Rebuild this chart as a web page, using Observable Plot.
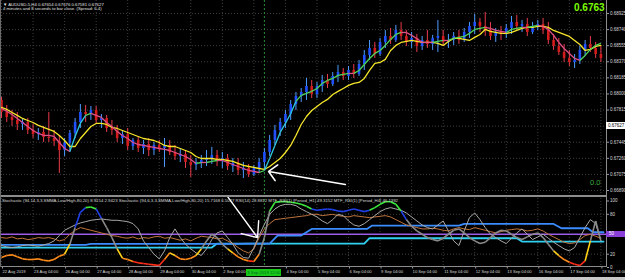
<!DOCTYPE html>
<html><head><meta charset="utf-8">
<script src="https://cdn.jsdelivr.net/npm/d3@7"></script>
<script src="https://cdn.jsdelivr.net/npm/@observablehq/plot@0.6"></script>
<style>
html,body{margin:0;padding:0;background:#000;}
#wrap{position:relative;width:625px;height:280px;background:#000;overflow:hidden;font-family:"Liberation Sans",Arial,sans-serif;}
#wrap svg{position:absolute;left:0;}
.t{position:absolute;white-space:nowrap;line-height:1;}
.ln{position:absolute;}
</style></head><body><div id="wrap"></div>
<script>
// ---- data (AUDUSD H4, prices in points = 1e-5) ----
const nBars = 115; // bar 1 = 22 Aug 2019 00:00, 6 bars per day
const open = [67925,67787,67730,67695,67649,67672,67580,67534,67557,67500,
67488,67454,67350,67431,67546,67672,67787,67764,67810,67695,
67718,67603,67580,67488,67534,67396,67465,67373,67419,67350,
67408,67373,67408,67327,67281,67304,67212,67178,67212,67235,
67258,67293,67224,67258,67166,67201,67120,67143,67074,67143,
67212,67327,67465,67580,67672,67764,67879,67971,68017,68086,
67994,68086,68155,68109,68201,68247,68201,68270,68224,68339,
68443,68523,68454,68592,68661,68615,68730,68661,68592,68638,
68546,68615,68569,68638,68661,68592,68615,68661,68615,68707,
68776,68822,68776,68730,68661,68707,68684,68753,68822,68776,
68799,68707,68776,68799,68730,68615,68546,68477,68408,68362,
68385,68500,68569,68523,68454];
const high = [67960,67868,67810,67787,67718,67718,67649,67603,67626,67787,
67580,67523,67488,67580,67718,67879,67868,67856,67856,67764,
67753,67695,67638,67580,67603,67488,67511,67465,67488,67442,
67465,67488,67465,67408,67373,67350,67293,67258,67293,67350,
67385,67350,67327,67304,67258,67258,67212,67189,67178,67258,
67373,67523,67638,67718,67810,67925,68017,68063,68178,68155,
68132,68213,68224,68247,68328,68293,68316,68339,68385,68500,
68615,68592,68638,68730,68753,68788,68822,68730,68707,68684,
68661,68730,68673,68845,68730,68684,68707,68730,68753,68822,
68914,68868,68937,68822,68753,68776,68799,68891,68903,68845,
68868,68822,68845,68868,68822,68684,68638,68569,68500,68454,
68546,68615,68661,68592,68546];
const low = [67718,67672,67626,67580,67580,67534,67488,67465,67442,67442,
67396,67086,67281,67327,67488,67603,67672,67695,67649,67603,
67557,67523,67442,67419,67350,67350,67327,67304,67281,67293,
67327,67155,67293,67235,67212,67143,67040,67120,67143,67166,
67189,67166,67143,67120,67097,67063,67028,67040,67051,67086,
67120,67281,67408,67511,67603,67695,67810,67902,67925,67948,
67948,68017,68063,68086,68132,68155,68155,68178,68201,68270,
68385,68408,68431,68523,68569,68592,68615,68546,68523,68477,
68500,68523,68500,68477,68546,68523,68558,68569,68592,68638,
68684,68707,68661,68615,68592,68615,68638,68684,68730,68707,
68661,68684,68730,68684,68569,68500,68443,68362,68316,68293,
68339,68431,68477,68408,68362];
const close = [67787,67730,67695,67649,67672,67580,67534,67557,67500,67488,
67454,67350,67431,67546,67672,67787,67764,67810,67695,67718,
67603,67580,67488,67534,67396,67465,67373,67419,67350,67408,
67373,67408,67327,67281,67304,67212,67178,67212,67235,67258,
67293,67224,67258,67166,67201,67120,67143,67074,67143,67212,
67327,67465,67580,67672,67764,67879,67971,68017,68086,67994,
68086,68155,68109,68201,68247,68201,68270,68224,68339,68443,
68523,68454,68592,68661,68615,68730,68661,68592,68638,68546,
68615,68569,68638,68661,68592,68615,68661,68615,68707,68776,
68822,68776,68730,68661,68707,68684,68753,68822,68776,68799,
68707,68776,68799,68730,68615,68546,68477,68408,68362,68385,
68500,68569,68523,68454,68408];
const fastMA = [67833,67799,67764,67718,67672,67626,67580,67546,67523,67523,
67511,67442,67373,67339,67511,67661,67753,67776,67753,67730,
67672,67626,67569,67523,67488,67442,67419,67408,67396,67385,
67373,67362,67350,67327,67304,67281,67247,67201,67212,67212,
67224,67235,67235,67212,67189,67166,67143,67120,67109,67097,
67120,67258,67408,67557,67661,67776,67914,67983,68006,68029,
68063,68121,68155,68178,68213,68224,68236,68236,68270,68339,
68408,68466,68500,68558,68627,68684,68707,68707,68673,68638,
68592,68592,68592,68604,68615,68615,68638,68650,68661,68696,
68742,68753,68765,68753,68730,68719,68707,68742,68753,68765,
68765,68776,68788,68776,68742,68673,68592,68523,68466,68408,
68385,68443,68512,68558,68581];
const slowMA = [67845,67822,67787,67753,67718,67695,67672,67638,67615,67592,
67569,67523,67465,67396,67396,67488,67557,67626,67661,67661,
67649,67615,67603,67580,67557,67534,67511,67488,67477,67465,
67442,67408,67396,67396,67373,67350,67327,67281,67258,67258,
67258,67247,67247,67235,67224,67201,67178,67166,67155,67143,
67132,67166,67212,67258,67327,67408,67523,67649,67741,67810,
67856,67902,67937,67994,68029,68063,68098,68121,68132,68178,
68270,68351,68362,68397,68500,68558,68592,68604,68615,68604,
68592,68592,68592,68581,68558,68604,68638,68638,68627,68615,
68650,68684,68742,68719,68707,68696,68696,68707,68730,68753,
68765,68765,68776,68776,68765,68730,68707,68684,68661,68615,
68569,68500,68512,68546,68558];
// sub-window oscillators (0..100)
const stochA = [15,18,19,16,13,12,12,13,11,10,
12,17,20,35,60,83,90,91,88,74,
60,45,28,14,12,9,7,6,5,4,
3,12,22,18,13,12,14,18,28,40,
50,45,35,28,22,16,12,10,9,20,
45,85,98,99,99,98,97,95,92,88,
86,87,88,87,85,84,86,88,86,84,
86,90,95,99,99,95,85,72,62,55,
50,45,42,40,44,50,56,58,52,45,
40,36,38,45,52,56,55,50,45,42,
46,50,52,45,35,25,18,12,8,5,
3,10,40,70,40];
const stochB = [33,31,30,31,33,34,33,32,34,36,
40,48,56,60,64,67,69,71,72,73,
72,71,71,70,69,66,58,40,30,20,
13,25,45,58,45,35,28,22,18,28,
42,52,55,45,35,22,15,14,30,48,
65,80,88,93,95,95,93,88,84,80,
76,70,66,72,80,78,70,64,62,66,
72,78,84,88,90,88,86,82,76,70,
64,60,58,64,70,55,40,33,55,75,
82,72,60,50,45,40,36,44,52,58,
50,42,46,50,44,38,33,28,25,30,
45,60,72,66,40];
const rsi14 = [45,44,46,43,44,42,43,45,44,45,
43,40,42,50,56,60,58,56,54,52,
50,48,47,45,44,46,43,45,44,46,
47,44,45,43,41,43,40,44,47,46,
45,43,44,40,36,30,25,22,28,45,
58,66,72,73,74,75,76,77,78,80,
80,78,79,80,78,77,76,78,77,76,
75,76,77,78,76,72,68,64,62,60,
58,58,59,58,56,55,58,60,58,57,
60,58,56,54,52,54,56,57,58,57,
55,56,58,55,50,46,42,38,36,37,
42,48,50,47,44];
const mtfH4 = [[1,34],[17,34],[18,35.5],[46,35.5],[48,36],[52,36],[53.5,48],[58,48],[60,58],[70.5,58],[71.5,63],[88,63],[89,65.5],[106,65.5],[107.5,59],[112.5,59],[113.5,53],[115.5,53]];
const mtfH1 = [[1,30],[41,30],[42,36],[70,36],[71,44],[99,44],[100,39],[115.5,39]];
const dayLabels = ["22 Aug 2019","23 Aug 04:00","26 Aug 04:00","27 Aug 04:00","28 Aug 04:00","29 Aug 04:00","30 Aug 04:00","2 Sep 04:00","3 Sep 04:00","4 Sep 04:00","5 Sep 04:00","6 Sep 04:00","9 Sep 04:00","10 Sep 04:00","11 Sep 04:00","12 Sep 04:00","13 Sep 04:00","16 Sep 04:00","17 Sep 04:00","18 Sep 04:00"];
const dayBars = [1,7,13,19,25,31,37,43,49,55,61,67,73,79,85,91,97,103,109,115];
const priceTicks = [0.68925,0.68740,0.68555,0.68370,0.68185,0.68000,0.67815,0.67630,0.67445,0.67260,0.67075,0.66890];
const subTicks = [100,80,50,20,0];
const currentPrice = 0.67627;
const bigPrice = "0.6763";
const signalBar = 51;
const signalLabel = "3 Sep 2019 12:00";
const arrowMain = [{x1:66.4, y1:0.66959, x2:51.8, y2:0.67109}];
const arrowSub = [{x1:44, y1:106.5, x2:49.7, y2:45}];
const title1 = "\u25BC AUDUSD-5,H4  0.67654 0.67676 0.67581 0.67627";
const title2 = "4 minutes and 8 seconds to bar close. (Spread: 6.4)";
const subTitle = "Stochastic (94,14,3,3,SMMA,Low/High,80,20) 8.9154 2.9423  Stochastic (94,6,3,3,SMMA,Low/High,80,20) 15.7168 6.5027  RSI(14) 28.8812  MTF_RSI(1) [Period_H1] 49.3152  MTF_RSI(1) [Period_H4] 46.1392";

// ---- build ----
const P = 1e5;
const bars = d3.range(nBars).map(k => ({i:k+1, o:open[k]/P, h:high[k]/P, l:low[k]/P, c:close[k]/P}));
bars.forEach(d => d.up = d.c >= d.o);
const slowPts = slowMA.map((v,k) => ({i:k+1, v:v/P}));
const fastSegs = d3.range(nBars-1).map(k => {
  const y1 = fastMA[k]/P, y2 = fastMA[k+1]/P, dv = y2 - y1;
  return {x1:k+1, x2:k+2, y1, y2, color: dv > 0.0008 ? "#2fc8e0" : dv > 0 ? "#4fd65a" : "#e2508a"};
});
function stochColor(v){ return v>=88?"#3ee83e":v>=70?"#2040e8":v>=30?"#8a8a8a":v>=20?"#ffd21a":v>=10?"#ff8c1a":"#ff2d1a"; }
const stochSegs = d3.range(nBars-1).map(k => ({x1:k+1, x2:k+2, y1:stochA[k], y2:stochA[k+1], color:stochColor((stochA[k]+stochA[k+1])/2)}));
const labelByBar = new Map(dayBars.map((b,k)=>[b, dayLabels[k]]));
// the label under the highlighted signal time box is hidden in the terminal
const labelBars = dayBars.filter(b => Math.abs(b - signalBar) > 3);
const xOpt = {type:"linear", domain:[1,nBars], range:[1,600.4], axis:null};
const baseStyle = {background:"transparent", color:"#d8d8d8", fontFamily:"'Liberation Sans', Arial, sans-serif", fontSize:"4.5px", overflow:"visible"};
const grid = "#3d3d3d";

const main = Plot.plot({
  width:625, height:195, marginTop:0, marginBottom:0, marginLeft:0, marginRight:19,
  style: baseStyle,
  x: xOpt,
  y: {type:"linear", domain:[0.66890,0.68925], range:[190,13], axis:null},
  color: {type:"identity"},
  marks: [
    Plot.ruleY(priceTicks, {stroke:grid, strokeDasharray:"1,2"}),
    Plot.ruleX(dayBars, {stroke:grid, strokeDasharray:"1,2"}),
    Plot.ruleX([signalBar], {stroke:"#2a8a34", strokeDasharray:"2,2"}),
    Plot.ruleX(bars, {x:"i", y1:"l", y2:"h", stroke:d => d.up ? "#4d9dff" : "#ea3b4b", strokeWidth:1}),
    Plot.ruleX(bars, {x:"i", y1:"o", y2:"c", stroke:d => d.up ? "#2050ff" : "#d41c1c", strokeWidth:2.6}),
    Plot.line(slowPts, {x:"i", y:"v", stroke:"#f5e62a", strokeWidth:1.3}),
    Plot.link(fastSegs, {x1:"x1", y1:"y1", x2:"x2", y2:"y2", stroke:"color", strokeWidth:1.3}),
    Plot.arrow(arrowMain, {x1:"x1", y1:"y1", x2:"x2", y2:"y2", stroke:"#ffffff", strokeWidth:1.6, headLength:10.5, headAngle:90}),
    Plot.axisY(priceTicks.filter(t => Math.abs(t - currentPrice) > 0.0001), {anchor:"right", tickSize:2, tickPadding:1.5, tickFormat:d => d.toFixed(5), stroke:"#9a9a9a", fill:"#d8d8d8"})
  ]
});

const sub = Plot.plot({
  width:625, height:85, marginTop:0, marginBottom:13.5, marginLeft:0, marginRight:19,
  style: baseStyle,
  x: xOpt,
  y: {type:"linear", domain:[0,100], range:[72,5.5], axis:null},
  color: {type:"identity"},
  marks: [
    Plot.ruleX(dayBars, {stroke:grid, strokeDasharray:"1,2"}),
    Plot.ruleY([80,20], {stroke:grid, strokeDasharray:"1,2"}),
    Plot.ruleX([signalBar], {stroke:"#2a8a34", strokeDasharray:"2,2"}),
    Plot.ruleY([50], {stroke:"#9b5de5", strokeWidth:1.6}),
    Plot.line(mtfH1, {stroke:"#2fd0f0", strokeWidth:1.8}),
    Plot.line(mtfH4, {stroke:"#3a8cff", strokeWidth:1.8}),
    Plot.line(rsi14.map((v,k)=>[k+1,v]), {stroke:"#c0743c", strokeWidth:1}),
    Plot.line(stochB.map((v,k)=>[k+1,v]), {stroke:"#a8a8a8", strokeWidth:1}),
    Plot.link(stochSegs, {x1:"x1", y1:"y1", x2:"x2", y2:"y2", stroke:"color", strokeWidth:1.6}),
    Plot.arrow(arrowSub, {x1:"x1", y1:"y1", x2:"x2", y2:"y2", stroke:"#ffffff", strokeWidth:1.4, headLength:18, headAngle:80}),
    Plot.axisX(labelBars, {anchor:"bottom", tickSize:2, tickPadding:1.5, tickFormat:d => labelByBar.get(d), textAnchor:"start", dx:1, fontSize:4.1, stroke:"#9a9a9a", fill:"#d8d8d8"}),
    Plot.axisY(subTicks.filter(t => t !== 50), {anchor:"right", tickSize:2, tickPadding:1.5, stroke:"#9a9a9a", fill:"#d8d8d8"})
  ]
});

const wrap = document.getElementById("wrap");
main.style.top = "0px";
sub.style.top = "195px";
wrap.appendChild(main);
wrap.appendChild(sub);

function add(cls, css, text){ const e = document.createElement("div"); e.className = cls; Object.assign(e.style, css); if (text != null) e.textContent = text; wrap.appendChild(e); return e; }
const xs = main.scale("x"), ym = main.scale("y"), ys = sub.scale("y");
// frame lines
add("ln", {left:"0px", top:"195px", width:"606px", height:"2px", background:"#8c8c8c"});
add("ln", {left:"606px", top:"0px", width:"1px", height:"267px", background:"#8c8c8c"});
add("ln", {left:"0px", top:"266px", width:"607px", height:"1px", background:"#8c8c8c"});
add("ln", {left:"0px", top:"0px", width:"1px", height:"267px", background:"#6a6a6a"});
add("ln", {left:"0px", top:"277px", width:"625px", height:"3px", background:"#c8c8c8"});
add("ln", {left:"180px", top:"277px", width:"40px", height:"3px", background:"#ffffff"});
// titles
add("t", {left:"3px", top:"3px", fontSize:"4.3px", color:"#e0e0e0"}, title1);
add("t", {left:"3px", top:"7px", fontSize:"4.3px", color:"#e0e0e0"}, title2);
add("t", {left:"2px", top:"199px", fontSize:"4.3px", color:"#d8d8d8"}, subTitle);
add("t", {left:"574px", top:"3px", fontSize:"10px", fontWeight:"bold", color:"#7cfc00"}, bigPrice);
add("t", {left:"590px", top:"179px", fontSize:"7.5px", color:"#3fae3f"}, "0.0");
// current price box on right axis
const py = ym.apply(currentPrice);
add("t", {left:"606px", top:(py-3.5)+"px", width:"19px", height:"7px", background:"#ffffff", color:"#000", fontSize:"4.5px", lineHeight:"7px", paddingLeft:"2px", boxSizing:"border-box"}, currentPrice.toFixed(5));
// 50 level box
const y50 = 195 + ys.apply(50);
add("t", {left:"606px", top:(y50-3)+"px", width:"19px", height:"6px", background:"#8a3fd8", color:"#fff", fontSize:"4.5px", lineHeight:"6px", paddingLeft:"3px", boxSizing:"border-box"}, "50");
// signal time box on x axis
const sx = xs.apply(signalBar);
add("t", {left:(sx-17.5)+"px", top:"268.5px", width:"35px", height:"7px", background:"#18c818", color:"#062", fontSize:"4.2px", lineHeight:"7px", textAlign:"center"}, signalLabel);
</script></body></html>
